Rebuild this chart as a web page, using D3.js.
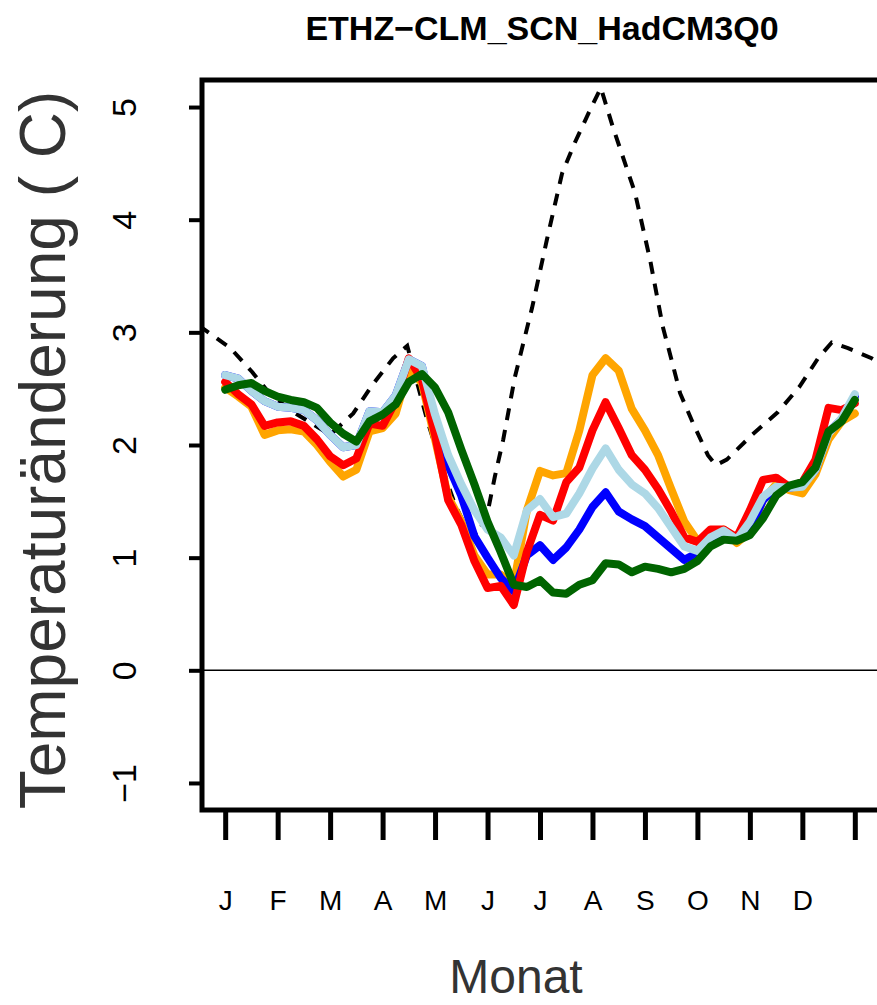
<!DOCTYPE html>
<html>
<head>
<meta charset="utf-8">
<script src="https://cdn.jsdelivr.net/npm/d3@7"></script>
<style>
  body { margin: 0; background: #fff; }
  svg { display: block; font-family: "Liberation Sans", Arial, sans-serif; }
</style>
</head>
<body>
<svg id="chart" width="877" height="1005"></svg>
<script>
const months = ['J', 'F', 'M', 'A', 'M', 'J', 'J', 'A', 'S', 'O', 'N', 'D'];
const yTicks = [-1, 0, 1, 2, 3, 4, 5];

// samples every quarter month, Jan 1 .. Dec 31
const samplePos = d3.range(49).map(i => i / 4);

const orange = [2.51,2.43,2.34,2.09,2.13,2.14,2.12,2.00,1.85,1.72,1.78,2.12,2.15,2.28,2.68,2.55,2.05,1.54,1.32,1.02,
  0.85,0.85,0.76,1.42,1.77,1.73,1.75,2.13,2.62,2.77,2.66,2.32,2.13,1.91,1.61,1.32,1.15,1.18,1.25,1.13,
  1.23,1.51,1.65,1.60,1.57,1.74,2.05,2.21,2.28];
const blue = [2.62,2.59,2.48,2.39,2.34,2.33,2.31,2.22,2.09,1.98,2.00,2.30,2.29,2.44,2.76,2.70,2.20,1.82,1.55,1.19,
  1.00,0.82,0.70,1.02,1.11,0.98,1.09,1.25,1.45,1.58,1.41,1.34,1.28,1.18,1.08,0.98,1.04,1.13,1.18,1.18,
  1.25,1.51,1.62,1.62,1.64,1.78,2.11,2.23,2.43];
const red = [2.56,2.45,2.36,2.17,2.20,2.21,2.17,2.05,1.90,1.82,1.88,2.19,2.17,2.39,2.77,2.58,2.09,1.51,1.29,0.97,
  0.73,0.75,0.58,1.05,1.38,1.33,1.67,1.80,2.13,2.38,2.15,1.91,1.78,1.61,1.41,1.18,1.14,1.25,1.25,1.18,
  1.42,1.69,1.71,1.63,1.67,1.87,2.33,2.31,2.37];
const lightblue = [2.62,2.59,2.48,2.39,2.34,2.33,2.31,2.22,2.09,1.98,2.00,2.30,2.29,2.44,2.76,2.70,2.27,1.91,1.65,1.42,
  1.25,1.18,1.02,1.42,1.52,1.36,1.39,1.57,1.79,1.97,1.78,1.65,1.57,1.44,1.27,1.10,1.06,1.18,1.24,1.16,
  1.32,1.54,1.63,1.62,1.63,1.78,2.10,2.24,2.45];
const green = [2.49,2.53,2.55,2.48,2.43,2.40,2.38,2.33,2.20,2.10,2.03,2.21,2.27,2.36,2.56,2.63,2.51,2.29,1.96,1.65,
  1.32,1.05,0.76,0.74,0.80,0.69,0.68,0.76,0.80,0.95,0.94,0.87,0.92,0.90,0.87,0.90,0.97,1.10,1.16,1.15,
  1.20,1.35,1.55,1.64,1.67,1.80,2.12,2.21,2.40];

// dashed curve, read along its path (position in months, value)
const dashPos = [-0.50,0.10,0.51,0.86,1.24,2.00,2.44,2.80,3.20,3.47,3.85,4.10,4.38,4.63,4.82,5.01,5.14,5.30,5.52,5.85,
  6.13,6.42,6.67,6.95,7.16,7.39,7.81,8.10,8.34,8.51,8.67,8.91,9.20,9.35,9.56,10.04,10.53,10.95,11.30,11.56,
  11.87,12.32,12.50];
const dashVal = [3.06,2.86,2.65,2.45,2.31,2.09,2.28,2.53,2.77,2.88,2.22,1.85,1.47,1.23,1.20,1.42,1.72,2.05,2.60,3.22,
  3.82,4.41,4.69,4.97,5.17,4.82,4.24,3.64,3.05,2.75,2.46,2.20,1.91,1.82,1.87,2.09,2.29,2.52,2.77,2.91,
  2.86,2.77,2.72];

const x = d3.scaleLinear().domain([-0.48, 12.48]).range([200, 880]);
const y = d3.scaleLinear().domain([-1.24, 5.24]).range([810, 80]);

const svg = d3.select('#chart');

svg.append('defs').append('clipPath').attr('id', 'plotclip')
  .append('rect')
    .attr('x', x.range()[0]).attr('y', y.range()[1])
    .attr('width', x.range()[1] - x.range()[0])
    .attr('height', y.range()[0] - y.range()[1]);

const plot = svg.append('g').attr('clip-path', 'url(#plotclip)');

plot.append('line')
  .attr('x1', x.range()[0]).attr('x2', x.range()[1])
  .attr('y1', y(0)).attr('y2', y(0))
  .attr('stroke', '#000').attr('stroke-width', 1.5);

plot.append('path')
  .datum(dashVal)
  .attr('d', d3.line().x((d, i) => x(dashPos[i])).y(d => y(d)))
  .attr('fill', 'none')
  .attr('stroke', '#000')
  .attr('stroke-width', 4)
  .attr('stroke-dasharray', '12,10');

const series = [
  {vals: orange, col: '#FFA500'},
  {vals: blue, col: '#0000FF'},
  {vals: red, col: '#FF0000'},
  {vals: lightblue, col: '#ADD8E6'},
  {vals: green, col: '#006400'}
];

const line = d3.line().x((d, i) => x(samplePos[i])).y(d => y(d));

plot.selectAll('path.series').data(series)
  .enter().append('path')
    .attr('class', 'series')
    .attr('d', d => line(d.vals))
    .attr('fill', 'none')
    .attr('stroke', d => d.col)
    .attr('stroke-width', 8)
    .attr('stroke-linejoin', 'round')
    .attr('stroke-linecap', 'round');

// box
svg.append('rect')
  .attr('x', x.range()[0] + 2).attr('y', y.range()[1])
  .attr('width', x.range()[1] - x.range()[0])
  .attr('height', y.range()[0] - y.range()[1])
  .attr('fill', 'none').attr('stroke', '#000').attr('stroke-width', 5);

// y axis
const yAxis = d3.axisLeft(y).tickValues(yTicks).tickSize(13)
  .tickFormat(d => d < 0 ? '\u2212' + Math.abs(d) : d);
svg.append('g')
  .attr('transform', `translate(${x.range()[0] + 2},0)`)
  .call(yAxis)
  .attr('font-family', null).attr('font-size', 34)
  .call(a => a.select('.domain').remove())
  .call(a => a.selectAll('.tick line').attr('stroke-width', 4))
  .call(a => a.selectAll('.tick text')
    .attr('x', 0).attr('y', -78).attr('dy', '0.35em')
    .attr('transform', 'rotate(-90)')
    .attr('text-anchor', 'middle')
    .attr('fill', '#000'));

// x axis
const xAxis = d3.axisBottom(x).tickValues(d3.range(13)).tickSize(30).tickPadding(50)
  .tickFormat(d => months[d] || '');
svg.append('g')
  .attr('transform', `translate(0,${y.range()[0]})`)
  .call(xAxis)
  .attr('font-family', null).attr('font-size', 28)
  .call(a => a.select('.domain').remove())
  .call(a => a.selectAll('.tick line').attr('stroke-width', 5))
  .call(a => a.selectAll('.tick text').attr('fill', '#000'));

// titles
svg.append('text')
  .attr('x', 542).attr('y', 40)
  .attr('text-anchor', 'middle')
  .attr('font-weight', 'bold').attr('font-size', 34)
  .text('ETHZ\u2212CLM_SCN_HadCM3Q0');

svg.append('text')
  .attr('transform', 'translate(65,450) rotate(-90)')
  .attr('text-anchor', 'middle')
  .attr('font-size', 64).attr('fill', '#333')
  .text('Temperaturänderung ( C)');

svg.append('text')
  .attr('x', 516).attr('y', 993)
  .attr('text-anchor', 'middle')
  .attr('font-size', 48).attr('fill', '#333')
  .text('Monat');
</script>
</body>
</html>
